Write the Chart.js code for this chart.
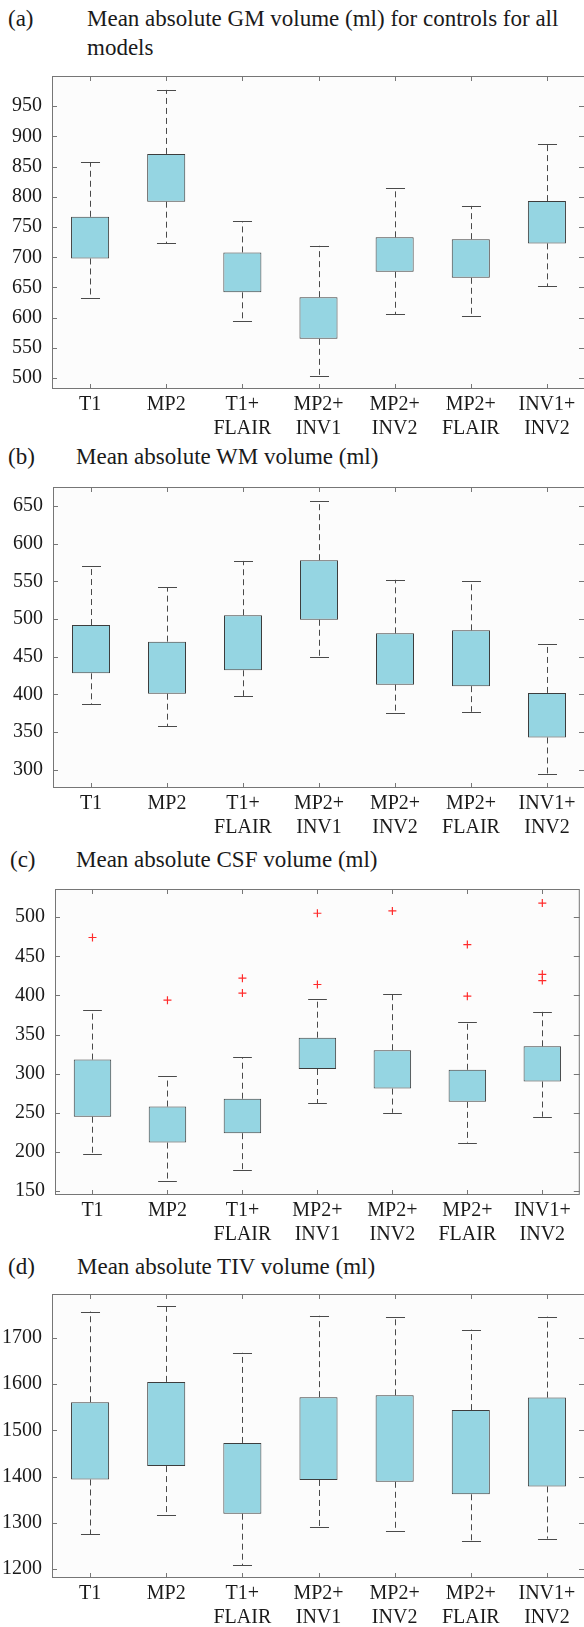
<!DOCTYPE html>
<html>
<head>
<meta charset="utf-8">
<script src="https://cdn.jsdelivr.net/npm/chart.js@4.4.1/dist/chart.umd.min.js"></script>
<style>
  body { margin: 0; background: #fff; width: 584px; height: 1627px; overflow: hidden; position: relative;
         font-family: 'Liberation Serif', serif; }
  .t { position: absolute; font-size: 23px; line-height: 29px; color: #1a1a1a; white-space: nowrap; }
  canvas { position: absolute; left: 0; }
</style>
</head>
<body>
<div class="t" style="left:8px;top:4px">(a)</div>
<div class="t" style="left:87px;top:4px">Mean absolute GM volume (ml) for controls for all<br>models</div>
<div class="t" style="left:8px;top:442px">(b)</div>
<div class="t" style="left:76px;top:442px">Mean absolute WM volume (ml)</div>
<div class="t" style="left:10px;top:845px">(c)</div>
<div class="t" style="left:76px;top:845px">Mean absolute CSF volume (ml)</div>
<div class="t" style="left:8px;top:1252px">(d)</div>
<div class="t" style="left:77px;top:1252px">Mean absolute TIV volume (ml)</div>

<canvas id="gm"></canvas>
<canvas id="wm"></canvas>
<canvas id="csf"></canvas>
<canvas id="tiv"></canvas>

<script>
// Modelle (x-Achse)
const models = [['T1'], ['MP2'], ['T1+', 'FLAIR'], ['MP2+', 'INV1'], ['MP2+', 'INV2'], ['MP2+', 'FLAIR'], ['INV1+', 'INV2']];

// GM
const gmLow  = [632, 723, 594, 504, 606, 603, 652];
const gmQ1   = [698, 792, 642, 565, 676, 666, 723];
const gmQ3   = [767, 871, 708, 634, 733, 730, 793];
const gmHigh = [857, 977, 760, 719, 814, 785, 888];
const gmTicks = [500, 550, 600, 650, 700, 750, 800, 850, 900, 950];

// WM
const wmLow  = [387, 358, 398, 449, 375, 377, 294];
const wmQ1   = [428, 401, 432, 499, 413, 411, 343];
const wmQ3   = [492, 470, 505, 578, 481, 485, 402];
const wmHigh = [570, 542, 577, 657, 552, 551, 467];
const wmTicks = [300, 350, 400, 450, 500, 550, 600, 650];

// CSF
const csfLow  = [198, 163, 177, 262, 250, 212, 245];
const csfQ1   = [245, 212, 224, 306, 281, 264, 290];
const csfQ3   = [318, 258, 268, 346, 330, 305, 335];
const csfHigh = [381, 297, 321, 395, 402, 366, 379];
const csfOut1 = [474, 394, 422, 505, 508, 465, 518];
const csfOut2 = [null, null, 403, 414, null, 399, 427];
const csfOut3 = [null, null, null, null, null, null, 419];
const csfTicks = [150, 200, 250, 300, 350, 400, 450, 500];

// TIV
const tivLow  = [1276, 1318, 1209, 1292, 1283, 1261, 1266];
const tivQ1   = [1394, 1423, 1320, 1393, 1389, 1362, 1379];
const tivQ3   = [1561, 1605, 1473, 1572, 1576, 1544, 1571];
const tivHigh = [1757, 1769, 1668, 1748, 1745, 1718, 1746];
const tivTicks = [1200, 1300, 1400, 1500, 1600, 1700];

const font = { family: "'Liberation Serif', serif", size: 20 };
const frameColor = '#767676';

// Rahmen, Ticks nach innen und Whisker
const boxPlot = {
  id: 'boxPlot',
  beforeDraw(chart) {
    const { ctx, chartArea: a } = chart;
    ctx.save();
    ctx.fillStyle = '#fcfcfc';
    ctx.fillRect(a.left, a.top, a.width, a.height);
    ctx.restore();
  },
  afterDatasetsDraw(chart, args, opts) {
    const { ctx, chartArea: a, scales: { x, y } } = chart;
    const step = x.getPixelForValue(1) - x.getPixelForValue(0);
    const cap = step * 0.125;
    ctx.save();
    ctx.strokeStyle = '#4a4a4a';
    ctx.lineWidth = 1;
    opts.low.forEach((lo, i) => {
      const px = Math.round(x.getPixelForValue(i)) + 0.5;
      const segs = [[opts.q3[i], opts.high[i]], [opts.q1[i], lo]];
      segs.forEach(([from, to]) => {
        ctx.setLineDash([6, 4]);
        ctx.beginPath();
        ctx.moveTo(px, y.getPixelForValue(from));
        ctx.lineTo(px, y.getPixelForValue(to));
        ctx.stroke();
        ctx.setLineDash([]);
        const py = Math.round(y.getPixelForValue(to)) + 0.5;
        ctx.beginPath();
        ctx.moveTo(px - cap, py);
        ctx.lineTo(px + cap, py);
        ctx.stroke();
      });
    });

    ctx.strokeStyle = frameColor;
    ctx.strokeRect(a.left + 0.5, a.top + 0.5, a.width - 1, a.height - 1);
    ctx.beginPath();
    y.ticks.forEach(t => {
      const py = Math.round(y.getPixelForValue(t.value)) + 0.5;
      ctx.moveTo(a.left, py); ctx.lineTo(a.left + 5, py);
      ctx.moveTo(a.right, py); ctx.lineTo(a.right - 6, py);
    });
    models.forEach((m, i) => {
      const px = Math.round(x.getPixelForValue(i)) + 0.5;
      ctx.moveTo(px, a.bottom); ctx.lineTo(px, a.bottom - 5);
      ctx.moveTo(px, a.top); ctx.lineTo(px, a.top + 5);
    });
    ctx.stroke();
    ctx.restore();
  }
};

function panel(id, top, left, height, yMin, yMax, ticks, low, q1, q3, high, outliers) {
  const el = document.getElementById(id);
  const padTop = 14;
  el.width = 585;   // rechter Rahmen liegt knapp ausserhalb des Bildes
  el.height = padTop + height + 62;
  el.style.top = (top - padTop) + 'px';

  const datasets = [{
    type: 'bar',
    data: q1.map((v, i) => [v, q3[i]]),
    backgroundColor: '#95d5e2',
    borderColor: '#3d3d3d',
    borderWidth: 1,
    borderSkipped: false,
    barPercentage: 0.5,
    categoryPercentage: 1.0
  }];
  (outliers || []).forEach(o => datasets.push({
    type: 'line',
    data: o,
    showLine: false,
    pointStyle: 'cross',
    pointRadius: 4,
    pointBorderColor: '#ff2b2b',
    pointBorderWidth: 1.2
  }));

  new Chart(el, {
    type: 'bar',
    data: { labels: models, datasets },
    options: {
      responsive: false,
      animation: false,
      devicePixelRatio: 1,
      layout: { padding: { top: padTop, left: 0, right: 0, bottom: 0 } },
      scales: {
        x: {
          offset: true,
          grid: { display: false, drawTicks: false },
          border: { display: false },
          afterFit: s => { s.height = 62; },
          ticks: { color: '#1a1a1a', font, padding: 4, autoSkip: false, maxRotation: 0 }
        },
        y: {
          min: yMin,
          max: yMax,
          afterBuildTicks: s => { s.ticks = ticks.map(v => ({ value: v })); },
          afterFit: s => { s.width = left; },
          grid: { display: false, drawTicks: false },
          border: { display: false },
          ticks: { color: '#1a1a1a', font, padding: 10, callback: v => String(v) }
        }
      },
      plugins: {
        legend: { display: false },
        tooltip: { enabled: false },
        boxPlot: { low, q1, q3, high }
      }
    },
    plugins: [boxPlot]
  });
}

panel('gm', 68, 52, 321, 482, 1000, gmTicks, gmLow, gmQ1, gmQ3, gmHigh);
panel('wm', 479, 53, 309, 276, 675, wmTicks, wmLow, wmQ1, wmQ3, wmHigh);
panel('csf', 881, 55, 314, 145, 536, csfTicks, csfLow, csfQ1, csfQ3, csfHigh, [csfOut1, csfOut2, csfOut3]);
panel('tiv', 1286, 52, 292, 1181, 1795, tivTicks, tivLow, tivQ1, tivQ3, tivHigh);
</script>
</body>
</html>
